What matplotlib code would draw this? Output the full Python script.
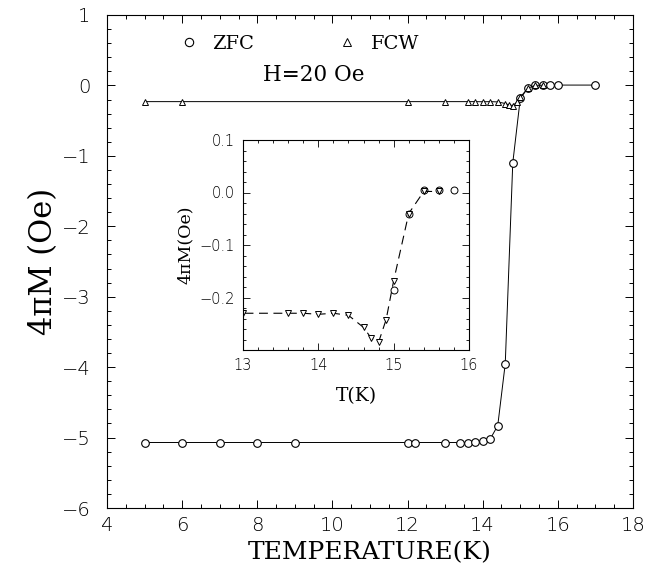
import numpy as np
import matplotlib
matplotlib.use("Agg")
import matplotlib.pyplot as plt
from matplotlib.ticker import MultipleLocator
from matplotlib.lines import Line2D

# ZFC (circles)
zfc_t = [5, 6, 7, 8, 9, 12, 12.2, 13, 13.4, 13.6, 13.8, 14.0, 14.2, 14.4,
         14.6, 14.8, 15.0, 15.2, 15.4, 15.6, 15.8, 16.0, 17.0]
zfc_m = [-5.07, -5.07, -5.07, -5.07, -5.07, -5.07, -5.07, -5.07, -5.07, -5.07,
         -5.06, -5.05, -5.02, -4.83, -3.95, -1.10, -0.185, -0.04, 0.005,
         0.005, 0.005, 0.005, 0.005]

# FCW (triangles)
fcw_t = [5, 6, 12, 13.0, 13.6, 13.8, 14.0, 14.2, 14.4, 14.6, 14.7, 14.8,
         14.9, 15.0, 15.2, 15.4, 15.6]
fcw_m = [-0.23, -0.23, -0.23, -0.23, -0.23, -0.23, -0.232, -0.23, -0.234,
         -0.257, -0.277, -0.285, -0.242, -0.168, -0.04, 0.002, 0.002]

serif = "DejaVu Serif"
sans = "DejaVu Sans"

fig = plt.figure(figsize=(6.72, 5.72), dpi=100)

# main axes
ax = fig.add_axes([107/672, 1 - 508/572, (633 - 107)/672, (508 - 15)/572])
ax.plot(zfc_t, zfc_m, color="black", lw=0.7, marker="o", ms=5.5,
        mfc="white", mec="black", mew=0.8)
ax.plot(fcw_t, fcw_m, color="black", lw=0.7, marker="^", ms=5,
        mfc="white", mec="black", mew=0.7)
ax.set_xlim(4, 18)
ax.set_ylim(-6, 1)
ax.xaxis.set_major_locator(MultipleLocator(2))
ax.xaxis.set_minor_locator(MultipleLocator(0.5))
ax.yaxis.set_major_locator(MultipleLocator(1))
ax.yaxis.set_minor_locator(MultipleLocator(0.2))
ax.tick_params(which="both", direction="in", top=True, right=True,
               width=0.7, labelsize=14)
ax.tick_params(which="major", length=6)
ax.tick_params(which="minor", length=3)
ax.tick_params(axis="y", pad=12)
ax.tick_params(axis="x", pad=6)
for lab in ax.get_xticklabels() + ax.get_yticklabels():
    lab.set_fontfamily(sans)
    lab.set_fontweight("light")
for s in ax.spines.values():
    s.set_linewidth(0.8)
ax.set_xlabel("TEMPERATURE(K)", fontsize=18, family=serif, labelpad=4)
ax.set_ylabel("4πM (Oe)", fontsize=22, family=serif, labelpad=2)

handles = [Line2D([], [], ls="none", marker="o", ms=6, mfc="white", mec="black", mew=0.8),
           Line2D([], [], ls="none", marker="^", ms=5.5, mfc="white", mec="black", mew=0.7)]
leg = ax.legend(handles, ["ZFC", "FCW"], ncol=2, frameon=False,
                loc="upper left", bbox_to_anchor=(0.1, 0.995),
                columnspacing=4.2, handletextpad=0.6, handlelength=1.2,
                prop={"family": serif, "size": 14})
ax.text(0.394, 0.878, "H=20 Oe", transform=ax.transAxes, ha="center",
        va="center", fontsize=15.5, family=serif)

# inset
ins = fig.add_axes([243/672, 1 - 350/572, (469 - 243)/672, (350 - 140)/572])
ins.plot(fcw_t, fcw_m, color="black", lw=0.8, ls=(0, (8, 5)), marker="v",
         ms=4.5, mfc="white", mec="black", mew=0.7)
zt = np.array(zfc_t)
zm = np.array(zfc_m)
sel = zt < 16
ins.plot(zt[sel], zm[sel], ls="none", marker="o", ms=5, mfc="none",
         mec="black", mew=0.7)
ins.set_xlim(13, 16)
ins.set_ylim(-0.3, 0.1)
ins.set_xticks([13, 14, 15, 16])
ins.set_yticks([-0.2, -0.1, 0.0, 0.1])
ins.set_yticklabels(["\u22120.2", "\u22120.1", "0.0", "0.1"])
ins.xaxis.set_minor_locator(MultipleLocator(0.2))
ins.yaxis.set_minor_locator(MultipleLocator(0.02))
ins.tick_params(which="both", direction="in", top=True, right=True,
                width=0.6, labelsize=10.5)
ins.tick_params(which="major", length=5)
ins.tick_params(which="minor", length=2.5)
ins.tick_params(axis="y", pad=6)
ins.tick_params(axis="x", pad=6)
for lab in ins.get_xticklabels() + ins.get_yticklabels():
    lab.set_fontfamily(sans)
    lab.set_fontweight("light")
for s in ins.spines.values():
    s.set_linewidth(0.8)
ins.set_xlabel("T(K)", fontsize=13.5, family=serif, labelpad=10)
ins.set_ylabel("4πM(Oe)", fontsize=12.5, family=serif, labelpad=4)

fig.savefig("out.png", dpi=100, facecolor="white")
